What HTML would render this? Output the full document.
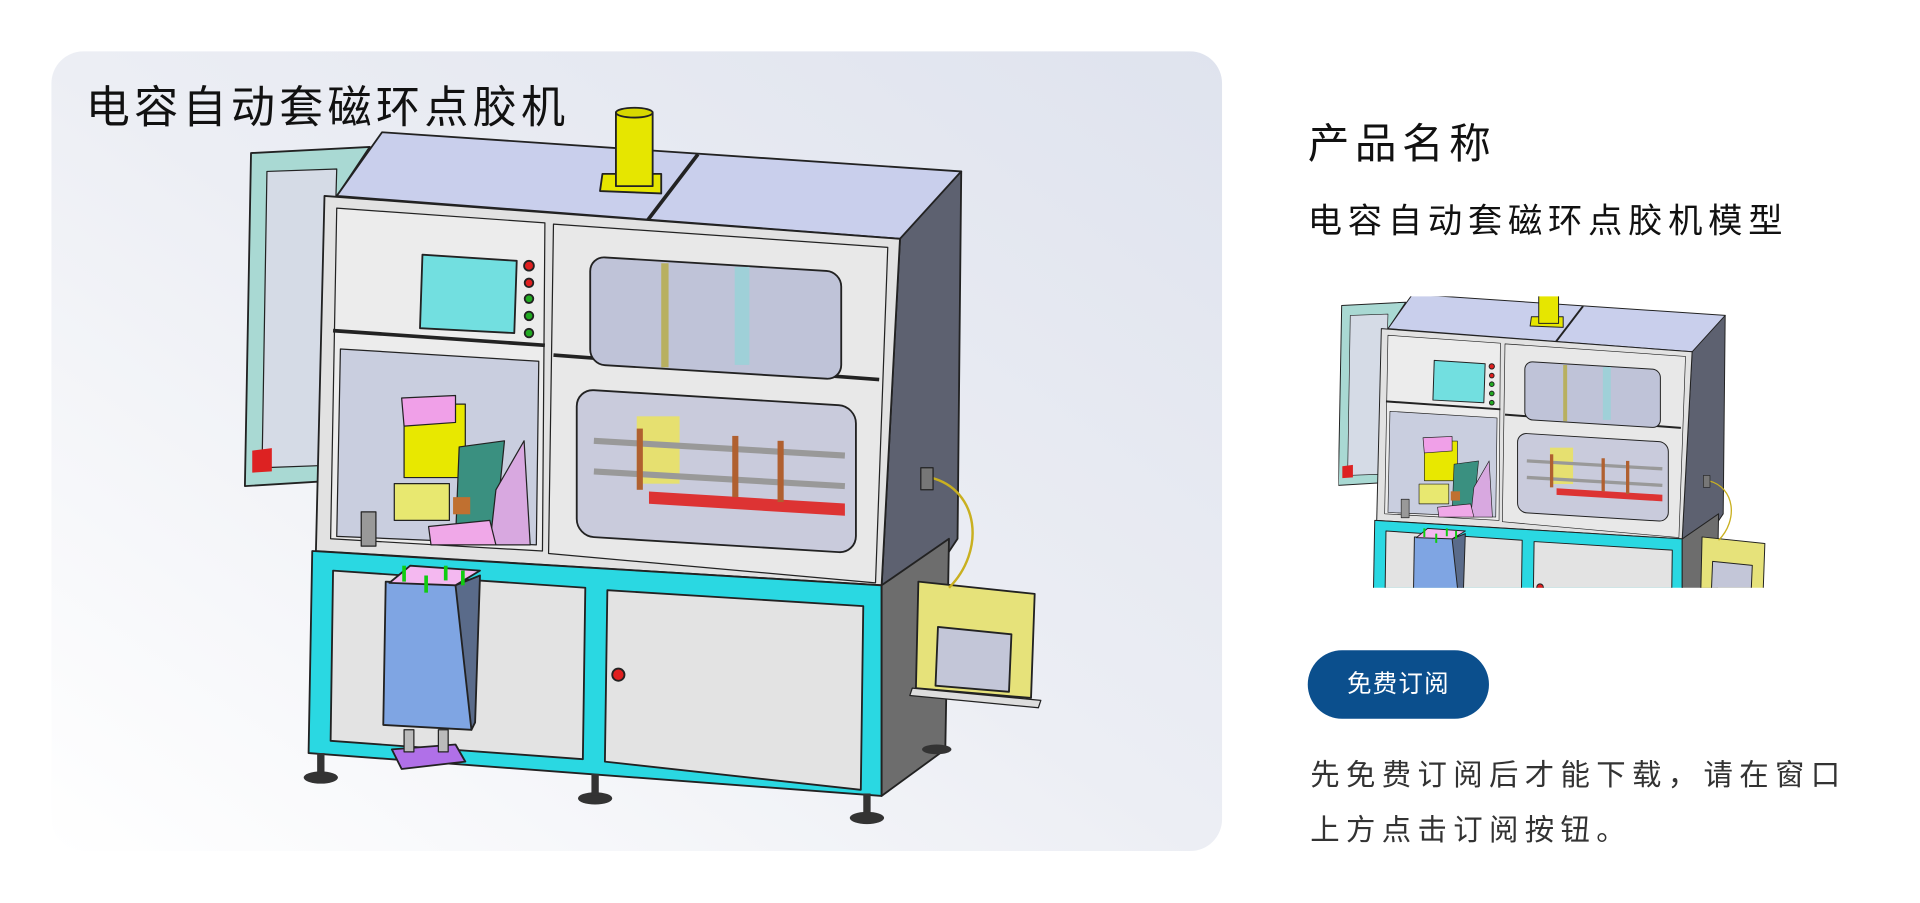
<!DOCTYPE html>
<html><head><meta charset="utf-8">
<style>
html,body{margin:0;padding:0;background:#fff;}
#w{position:relative;width:1568px;height:737px;transform:scale(1.22449);transform-origin:0 0;font-family:"Liberation Sans","Noto Sans CJK SC",sans-serif;}
.t{position:absolute;white-space:nowrap;color:#111;}
</style></head><body>
<div id="w">
<svg width="1568" height="737" viewBox="0 0 1568 737" style="position:absolute;left:0;top:0">
<defs>
<linearGradient id="bg" x1="1" y1="0" x2="0" y2="1">
<stop offset="0" stop-color="#dfe3ee"/><stop offset="0.5" stop-color="#eceef4"/><stop offset="1" stop-color="#ffffff"/>
</linearGradient>
<clipPath id="cp"><rect x="1093" y="242" width="349" height="238"/></clipPath>
<g id="m" stroke="#222" stroke-width="1.5" stroke-linejoin="round">
<polygon points="205,125 302,120 272,165 266,393 200,397" fill="#a9d9d3"/>
<polygon points="218,140 275,138 268,380 214,382" fill="#d5dbe6" stroke-width="1"/>
<polygon points="206,368 222,366 222,385 206,386" fill="#d22" stroke="none"/>
<polygon points="275,160 312,108 785,140 760,195 735,195" fill="#c9cfec"/>
<line x1="525" y1="185" x2="570" y2="126" stroke-width="3"/>
<polygon points="735,195 785,140 782,440 772,455 720,478" fill="#5d6170"/>
<polygon points="490,156 492,142 540,142 540,158" fill="#e6e600"/>
<rect x="503" y="92" width="30" height="60" fill="#e6e600"/>
<ellipse cx="518" cy="92" rx="15" ry="4" fill="#d8d800"/>
<polygon points="265,160 735,195 720,478 258,450" fill="#e2e2e2"/>
<polygon points="275,170 445,182 443,450 270,440" fill="#ececec" stroke-width="1"/>
<polygon points="452,183 725,202 715,476 448,452" fill="#e8e8e8" stroke-width="1"/>
<line x1="272" y1="270" x2="445" y2="282" stroke-width="3"/>
<line x1="452" y1="290" x2="718" y2="310" stroke-width="3"/>
<polygon points="345,208 422,213 420,272 343,268" fill="#72dfe0"/>
<circle cx="432" cy="217" r="4" fill="#e02020"/><circle cx="432" cy="231" r="3.5" fill="#e02020"/>
<circle cx="432" cy="244" r="3.5" fill="#2a2"/><circle cx="432" cy="258" r="3.5" fill="#2a2"/><circle cx="432" cy="272" r="3.5" fill="#2a2"/>
<rect x="482" y="210" width="205" height="88" rx="12" fill="#bfc3d8" transform="skewY(3.5) translate(0,-30)"/>
<rect x="540" y="215" width="6" height="85" fill="#b8b060" stroke="none"/>
<rect x="600" y="218" width="12" height="80" fill="#9fd0d8" stroke="none"/>
<rect x="471" y="320" width="228" height="120" rx="14" fill="#c9cbdc" transform="skewY(3.5) translate(0,-31)"/>
<rect x="530" y="404" width="160" height="10" fill="#d33" stroke="none" transform="skewY(3.5) translate(0,-35)"/>
<rect x="520" y="340" width="35" height="55" fill="#e6e070" stroke="none"/>
<line x1="485" y1="360" x2="690" y2="372" stroke="#999" stroke-width="5"/>
<line x1="485" y1="385" x2="690" y2="397" stroke="#999" stroke-width="5"/>
<rect x="520" y="350" width="5" height="50" fill="#b06030" stroke="none"/><rect x="598" y="356" width="5" height="50" fill="#b06030" stroke="none"/><rect x="635" y="360" width="5" height="50" fill="#b06030" stroke="none"/>
<polygon points="278,285 440,295 438,445 275,438" fill="#c9cedf" stroke-width="1"/>
<rect x="330" y="330" width="50" height="60" fill="#e8e800" stroke-width="1"/>
<polygon points="328,325 372,323 372,345 330,348" fill="#f0a0e8" stroke-width="1"/>
<rect x="322" y="395" width="45" height="30" fill="#e8e870" stroke-width="1"/>
<polygon points="375,365 412,360 405,430 372,440" fill="#3a9080" stroke-width="1"/>
<polygon points="405,400 428,360 433,445 400,445" fill="#d8a8e0" stroke-width="1"/>
<polygon points="350,430 400,425 405,445 352,445" fill="#f0a8e8" stroke-width="1"/>
<rect x="295" y="418" width="12" height="28" fill="#999" stroke-width="1"/>
<rect x="325" y="398" width="14" height="14" fill="#c07030" stroke="none" transform="translate(45,8)"/>
<polygon points="255,450 720,478 720,650 252,615" fill="#2ad8e2"/>
<polygon points="720,478 775,440 772,612 720,650" fill="#6d6d6d"/>
<polygon points="272,466 478,480 476,620 270,605" fill="#e3e3e3"/>
<polygon points="496,482 705,495 703,645 494,622" fill="#e3e3e3"/>
<circle cx="505" cy="551" r="5" fill="#e02020"/>
<polygon points="315,475 390,478 385,596 313,592" fill="#7fa5e3"/>
<polygon points="372,478 392,470 388,590 385,596" fill="#5a6b8a"/>
<polygon points="318,476 335,462 392,466 372,478" fill="#f4b8f0"/>
<g stroke="#1c1" stroke-width="3"><line x1="330" y1="462" x2="330" y2="475"/><line x1="348" y1="470" x2="348" y2="484"/><line x1="364" y1="462" x2="364" y2="474"/><line x1="378" y1="466" x2="378" y2="478"/></g>
<polygon points="320,612 372,608 380,622 328,628" fill="#b070e8"/>
<rect x="330" y="596" width="8" height="18" fill="#bbb" stroke-width="1"/><rect x="358" y="596" width="8" height="18" fill="#bbb" stroke-width="1"/>
<polygon points="750,475 845,485 842,570 748,562" fill="#e6e27a"/>
<polygon points="766,512 826,518 824,565 764,560" fill="#c3c6d8"/>
<polygon points="745,562 850,572 848,578 743,568" fill="#ddd" stroke-width="1"/>
<path d="M760,390 C800,400 805,450 775,480" fill="none" stroke="#c9b020" stroke-width="2"/>
<rect x="752" y="382" width="10" height="18" fill="#777" stroke-width="1"/>
<g fill="#333" stroke="none">
<ellipse cx="262" cy="635" rx="14" ry="5"/><rect x="259" y="615" width="6" height="18"/>
<ellipse cx="486" cy="652" rx="14" ry="5"/><rect x="483" y="632" width="6" height="18"/>
<ellipse cx="708" cy="668" rx="14" ry="5"/><rect x="705" y="648" width="6" height="18"/>
<ellipse cx="765" cy="612" rx="12" ry="4"/>
</g>
</g>
</defs>
<rect x="42" y="42" width="956" height="653" rx="26" fill="url(#bg)"/>
<use href="#m"/>
<g clip-path="url(#cp)"><use href="#m" transform="translate(985,182) scale(0.54)"/></g>
</svg>
<div class="t" style="left:70px;top:67px;font-size:36px;letter-spacing:3.5px;line-height:42px;">电容自动套磁环点胶机</div>
<div class="t" style="left:1068px;top:98px;font-size:34px;letter-spacing:4.5px;line-height:40px;">产品名称</div>
<div class="t" style="left:1068px;top:164px;font-size:28px;letter-spacing:4.7px;line-height:34px;">电容自动套磁环点胶机模型</div>
<div style="position:absolute;left:1068px;top:531px;width:148px;height:56px;border-radius:28px;background:#0b4f8d;color:#fff;font-size:20px;line-height:56px;text-align:center;letter-spacing:1px;">免费订阅</div>
<div class="t" style="left:1070px;top:611px;font-size:24px;letter-spacing:5.2px;line-height:45px;color:#333;">先免费订阅后才能下载，请在窗口<br>上方点击订阅按钮。</div>
</div>
</body></html>
